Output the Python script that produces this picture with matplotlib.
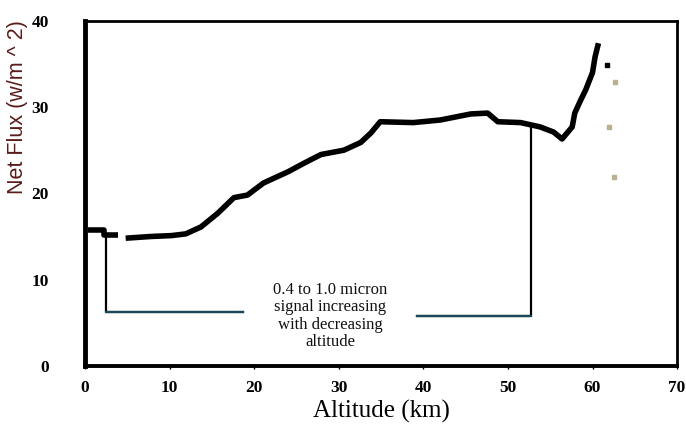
import matplotlib
matplotlib.use("Agg")
import matplotlib.pyplot as plt

# Data (altitude km, net flux W/m^2)
alt_a = [0.3, 2.2, 2.2, 3.9]
flux_a = [15.8, 15.8, 15.2, 15.2]
alt_b = [4.8, 7.8, 10.2, 11.9, 13.7, 15.7, 17.6, 19.2, 21.1, 24.0, 25.9, 27.9,
         30.6, 32.6, 33.8, 34.9, 38.8, 42.0, 45.6, 47.6, 48.8, 51.5, 53.8, 55.4,
         56.4, 57.6, 57.9, 58.6, 59.2, 60.0, 60.3, 60.7]
flux_b = [14.8, 15.0, 15.1, 15.3, 16.1, 17.7, 19.5, 19.8, 21.2, 22.5, 23.5, 24.5,
          25.0, 25.9, 27.0, 28.3, 28.2, 28.5, 29.2, 29.3, 28.3, 28.2, 27.7, 27.1,
          26.3, 27.7, 29.3, 30.8, 32.0, 34.0, 35.8, 37.4]
stray_alt = [61.7, 61.9, 62.5, 62.7]
stray_flux = [34.9, 27.7, 21.9, 32.9]

# annotation bracket
bracket_left = [(2.5, 15.2), (2.5, 6.3), (18.7, 6.3)]
bracket_right = [(39.3, 5.8), (52.7, 5.8), (52.7, 27.6)]
note = "0.4 to 1.0 micron\nsignal increasing\nwith decreasing\naltitude"

xticks = [0, 10, 20, 30, 40, 50, 60, 70]
yticks = [0, 10, 20, 30, 40]

fig = plt.figure(figsize=(6.86, 4.33), dpi=100)
ax = fig.add_axes([0.124, 0.155, 0.863, 0.797])
ax.set_xlim(0, 70)
ax.set_ylim(0, 40)

ax.plot(alt_a, flux_a, color="black", lw=4, solid_capstyle="butt")
ax.plot(alt_b, flux_b, color="black", lw=4, solid_capstyle="butt")
ax.plot(stray_alt[:1], stray_flux[:1], ls="none", marker="s", ms=3, color="black")
ax.plot(stray_alt[1:], stray_flux[1:], ls="none", marker="s", ms=2.5, color="#b8b090")

bx, by = zip(*bracket_left)
ax.plot(bx, by, color="black", lw=1.6)
ax.plot(bx[1:], by[1:], color="#1a4a5a", lw=1.6)
rx, ry = zip(*bracket_right)
ax.plot(rx, ry, color="black", lw=1.6)
ax.plot(rx[:2], ry[:2], color="#1a4a5a", lw=1.6)

ax.text(29.0, 9.7, note, ha="center", va="top", family="Liberation Serif",
        fontsize=12, linespacing=1.1, color="#111111")

for side, w in [("left", 3.5), ("bottom", 2.8), ("top", 2.0), ("right", 2.0)]:
    ax.spines[side].set_linewidth(w)
    ax.spines[side].set_color("black")

ax.set_xticks(xticks)
ax.set_yticks(yticks)
ax.set_xticklabels([str(t) for t in xticks], family="Liberation Serif",
                   fontweight="bold", fontsize=12.5)
ax.set_yticklabels([str(t) for t in yticks], family="Liberation Serif",
                   fontweight="bold", fontsize=12.5)
ax.tick_params(axis="x", length=2, width=1, pad=8)
ax.tick_params(axis="y", length=0, pad=26)

ax.set_xlabel("Altitude (km)", family="Liberation Serif", fontsize=18, labelpad=3)
fig.text(0.026, 0.752, "Net Flux (w/m ^ 2)", rotation=90, ha="center", va="center",
         family="Liberation Sans", fontsize=15.5, color="#5a1c1c")

fig.savefig("out.png", dpi=100)
